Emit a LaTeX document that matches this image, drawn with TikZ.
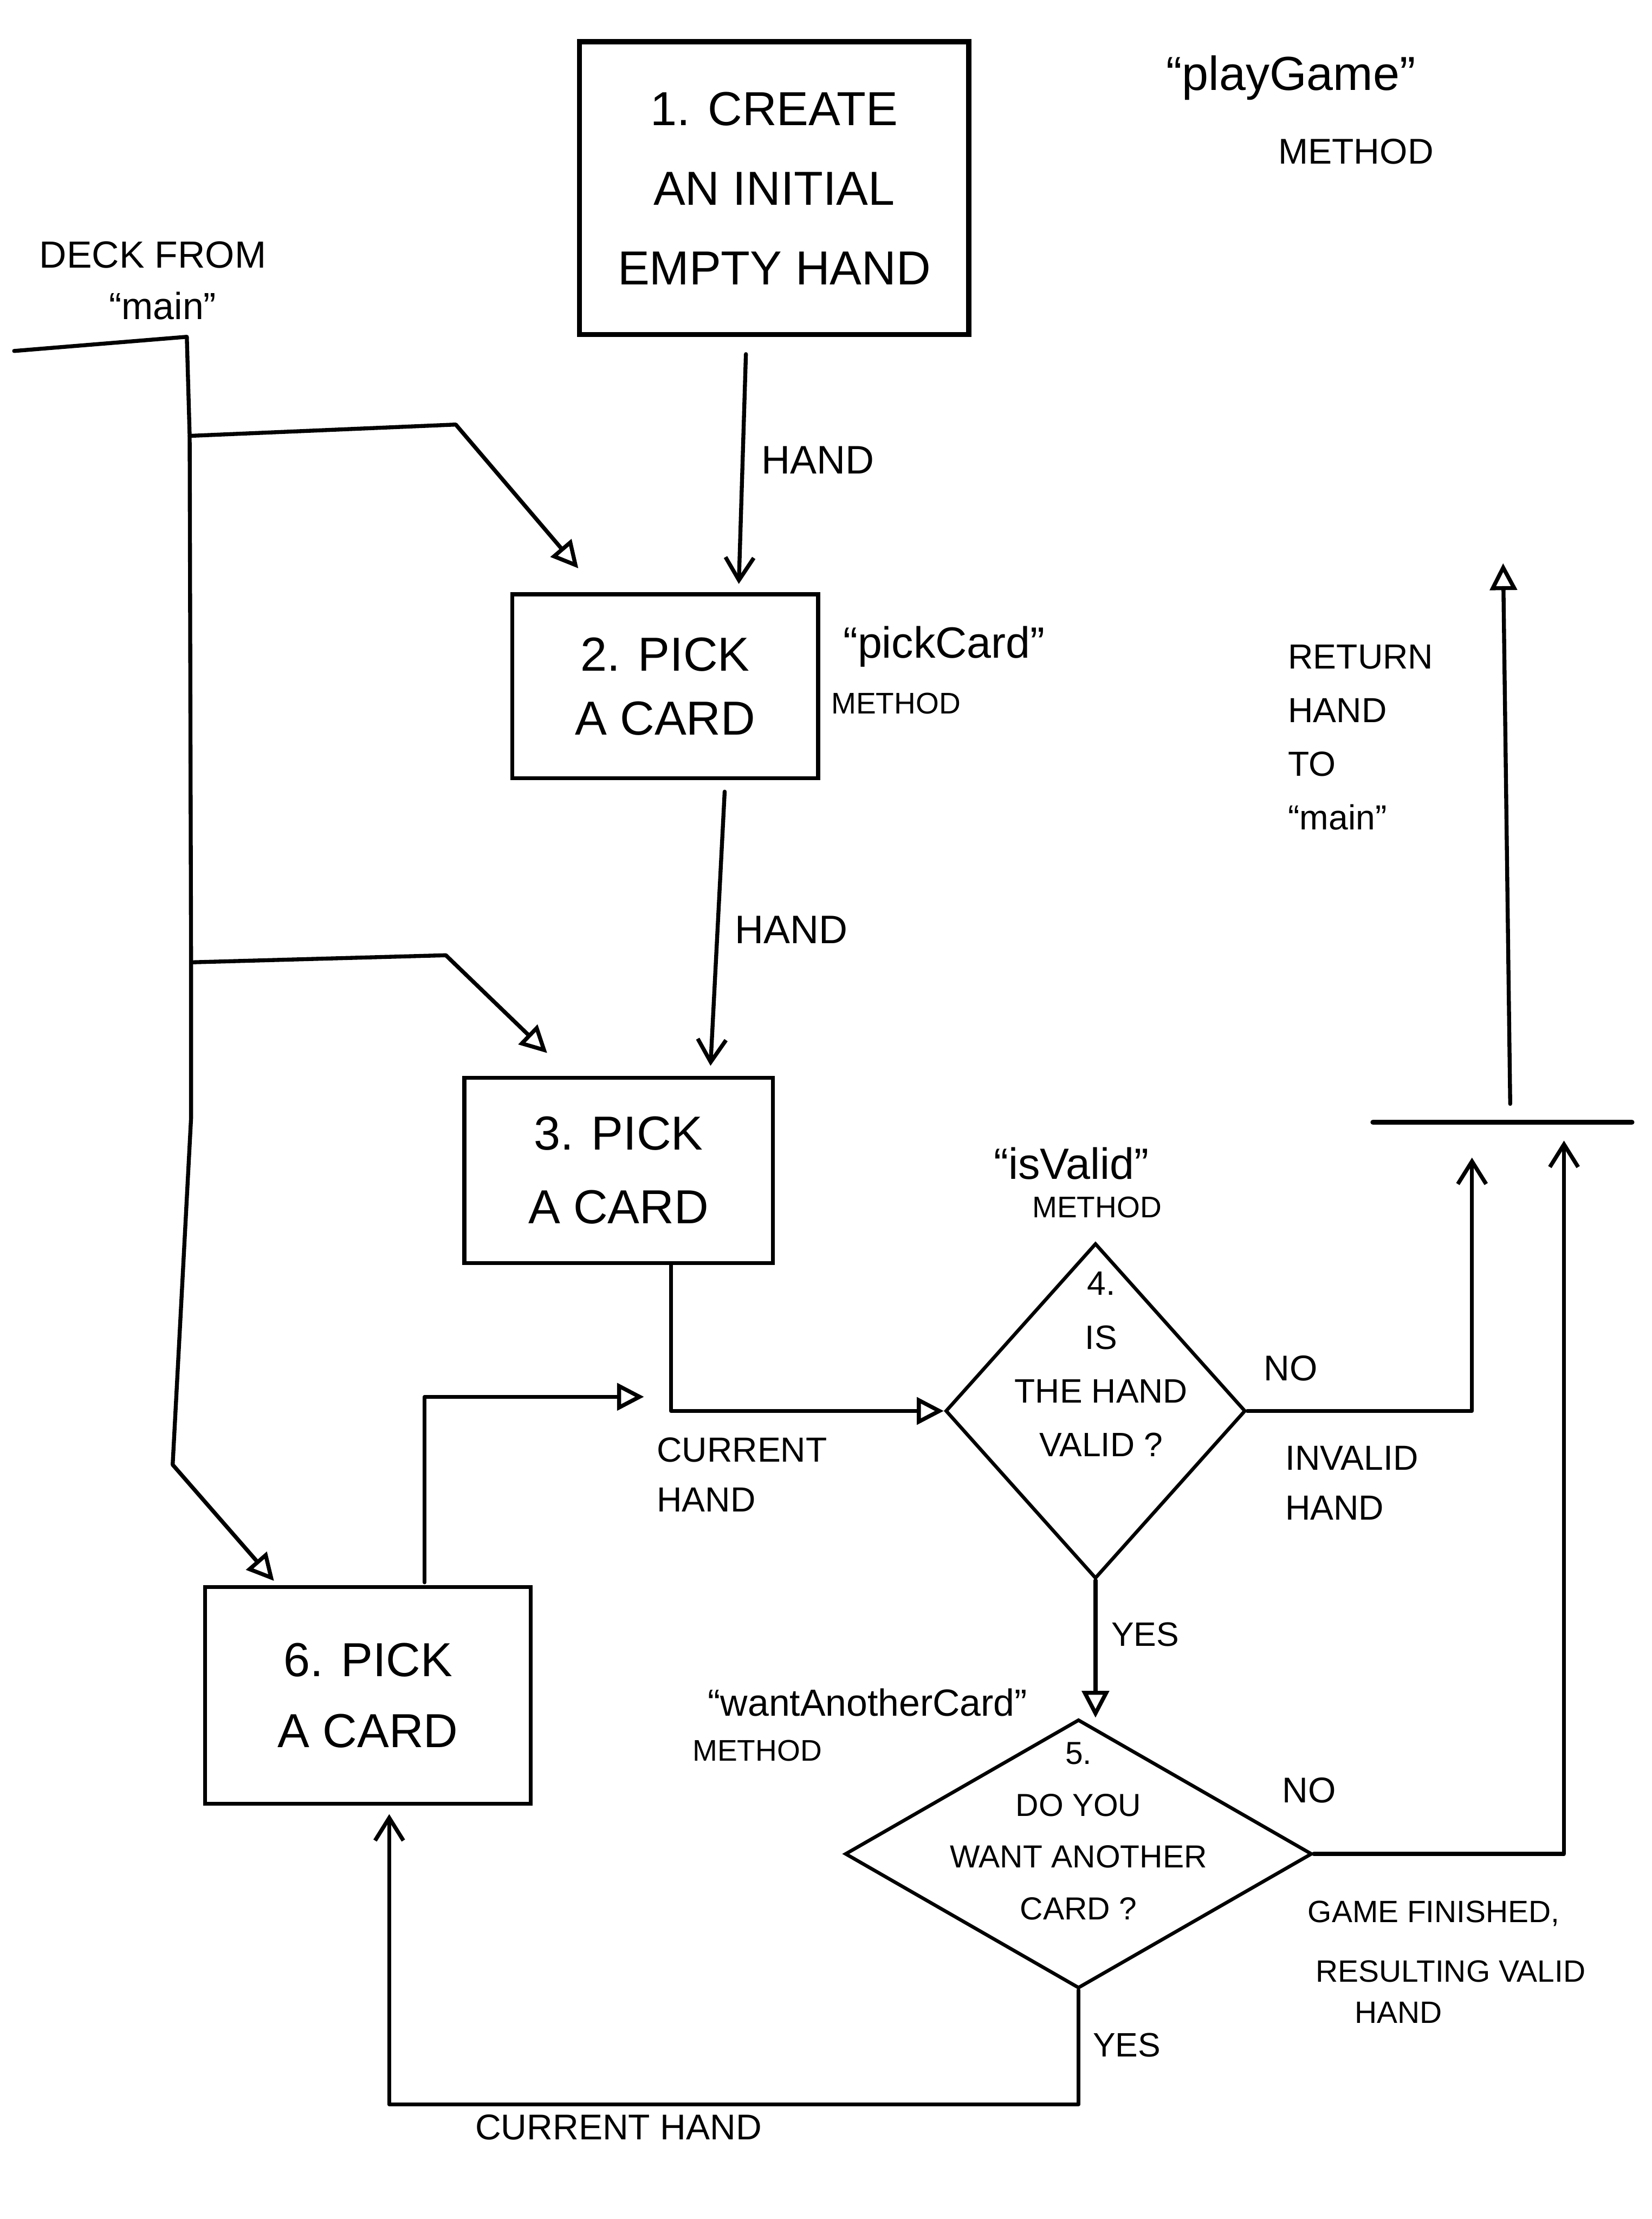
\documentclass[tikz,border=0pt]{standalone}
\usepackage{fontspec}
\setmainfont{Liberation Sans}
\usetikzlibrary{arrows.meta,shapes.geometric,calc}
\begin{document}
\begin{tikzpicture}[x=0.05cm,y=-0.05cm,
  ln/.style={line width=4pt,line cap=round,line join=round},
  tri/.style={ln,-{Triangle[open,length=0.95cm,width=0.95cm,line width=4pt]}},
  barb/.style={ln,-{Straight Barb[length=0.8cm,width=1.0cm,line width=4pt]}},
  boxnode/.style={draw,line width=4pt,inner sep=0pt,align=center},
  dia/.style={draw,diamond,line width=3.5pt,inner sep=0pt},
  fs/.style 2 args={font=\fontsize{#1}{#2}\selectfont},
  txt/.style={inner sep=0pt,align=center}]
\fill[white] (0,0) rectangle (1167,1568);
\useasboundingbox (0,0) rectangle (1167,1568);

% boxes
\node[boxnode,line width=5pt,minimum width=13.75cm,minimum height=10.35cm,fs={48}{80}] (box1) at (547,133) {1. CREATE\\AN INITIAL\\EMPTY HAND};
\node[boxnode,minimum width=10.8cm,minimum height=6.5cm,fs={48}{64}] (box2) at (470,485) {2. PICK\\A CARD};
\node[boxnode,minimum width=10.9cm,minimum height=6.55cm,fs={48}{74}] (box3) at (437,827) {3. PICK\\A CARD};
\node[boxnode,minimum width=11.5cm,minimum height=7.65cm,fs={48}{71}] (box6) at (260,1198) {6. PICK\\A CARD};

% diamonds
\node[dia,minimum width=10.6cm,minimum height=11.85cm] (d4) at (774,997) {};
\node[txt,fs={34}{54}] (d4t) at (778,964) {4.\\IS\\THE HAND\\VALID ?};
\node[dia,minimum width=16.5cm,minimum height=9.5cm] (d5) at (762,1310) {};
\node[txt,fs={32}{52}] (d5t) at (762,1294) {5.\\DO YOU\\WANT ANOTHER\\CARD ?};

% coordinates
\coordinate (deckL) at (10,248);
\coordinate (deckC) at (132,238);
\coordinate (j1) at (134,308);
\coordinate (j2) at (135,680);
\coordinate (j3) at (135,790);
\coordinate (j4) at (122,1035);
\coordinate (k1) at (322,300);
\coordinate (k2) at (315,675);
\coordinate (tip6) at (455,987);
\coordinate (arrL) at (1040,818);
\coordinate (arrR) at (1105,806);
\coordinate (barL) at (970,793);
\coordinate (barR) at (1153,793);
\coordinate (barTop) at (1067,780);
\coordinate (retTip) at (1062,398);
\coordinate (cB) at (275,1487);

% connectors
\draw[tri] (deckL) -- (deckC) -- (j1) -- (j2) -- (j3) -- (j4) -- ($(box6.north west)+(50,-3)$);
\draw[tri] (j1) -- (k1) -- ($(box2.north west)+(48,-17)$);
\draw[tri] (j2) -- (k2) -- ($(box3.north west)+(60,-16)$);
\draw[barb] ($(box1.south)+(-20,12)$) -- ($(box2.north)+(52,-6)$);
\draw[barb] ($(box2.south)+(42,8)$) -- ($(box3.north)+(65,-7)$);
\draw[tri] ($(box3.south)+(37,0)$) |- (d4.west);
\draw[tri] ($(box6.north)+(40,-2)$) |- (tip6);
\draw[barb] (d4.east) -| (arrL);
\draw[barb] (d5.east) -| (arrR);
\draw[ln,line width=5pt] (barL) -- (barR);
\draw[tri] (barTop) -- (retTip);
\draw[tri] (d4.south) -- (d4.south |- d5.north);
\draw[barb] (d5.south) |- (cB) -- ($(box6.south)+(15,6)$);

% labels
\node[txt,fs={38}{44}] (lDeck) at (108,180) {DECK FROM};
\node[txt,fs={38}{44}] (lDeckMain) at (115,216) {“main”};
\node[txt,fs={48}{54}] (lPlay) at (912,55) {“playGame”};
\node[txt,fs={36}{42}] (lPlayM) at (958,107) {METHOD};
\node[txt,fs={40}{46},anchor=west] (lHand1) at (538,325) {HAND};
\node[txt,fs={44}{50}] (lPick) at (667,457) {“pickCard”};
\node[txt,fs={30}{36}] (lPickM) at (633,497) {METHOD};
\node[txt,fs={40}{46},anchor=west] (lHand2) at (519,657) {HAND};
\node[txt,fs={35}{54},align=left,anchor=west] (lRet) at (910,521) {RETURN\\HAND\\TO\\“main”};
\node[txt,fs={44}{50}] (lValid) at (757,822) {“isValid”};
\node[txt,fs={30}{36}] (lValidM) at (775,853) {METHOD};
\node[txt,fs={36}{42}] (lNo1) at (912,967) {NO};
\node[txt,fs={35}{50},align=left,anchor=west] (lInv) at (908,1048) {INVALID\\HAND};
\node[txt,fs={35}{50},align=left,anchor=west] (lCur1) at (464,1042) {CURRENT\\HAND};
\node[txt,fs={34}{40},anchor=west] (lYes1) at (785,1155) {YES};
\node[txt,fs={38}{44}] (lWant) at (613,1203) {“wantAnotherCard”};
\node[txt,fs={30}{36}] (lWantM) at (535,1237) {METHOD};
\node[txt,fs={36}{42}] (lNo2) at (925,1265) {NO};
\node[txt,fs={31}{36}] (lGame1) at (1013,1352) {GAME FINISHED,};
\node[txt,fs={31}{36}] (lGame2) at (1025,1393) {RESULTING VALID};
\node[txt,fs={31}{36}] (lGame3) at (988,1422) {HAND};
\node[txt,fs={34}{40},anchor=west] (lYes2) at (772,1445) {YES};
\node[txt,fs={36}{42}] (lCur2) at (437,1503) {CURRENT HAND};
\end{tikzpicture}
\end{document}
